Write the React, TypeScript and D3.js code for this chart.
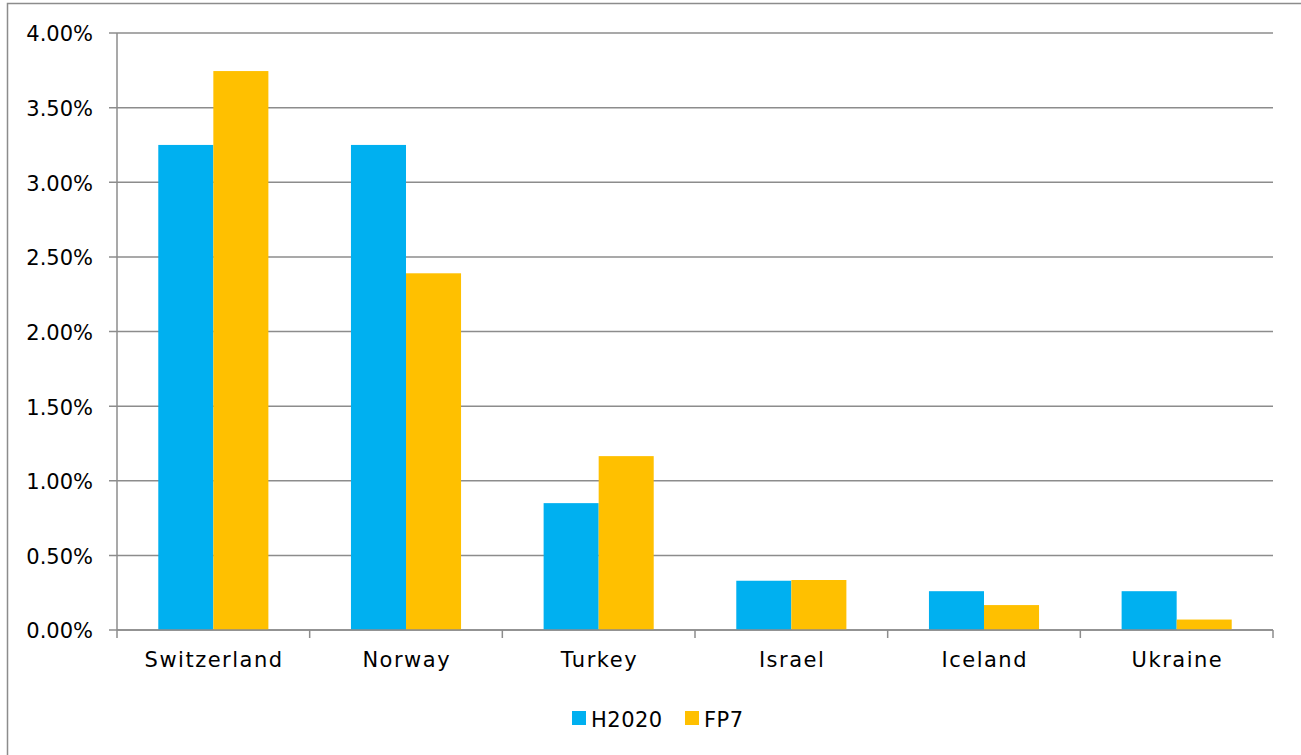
import React, { useEffect, useRef } from 'react';
import * as d3 from 'd3';

const countries = ['Switzerland', 'Norway', 'Turkey', 'Israel', 'Iceland', 'Ukraine'];
const h2020 = [0.0325, 0.0325, 0.0085, 0.0033, 0.0026, 0.0026];
const fp7 = [0.03745, 0.0239, 0.01165, 0.00335, 0.00167, 0.0007];
const yTicks = [0, 0.005, 0.01, 0.015, 0.02, 0.025, 0.03, 0.035, 0.04];
const seriesNames = ['H2020', 'FP7'];
const colors = ['#00B0F0', '#FFC000'];

const FONT = 'DejaVu Sans';

const App: React.FC = () => {
    const ref = useRef<SVGSVGElement>(null);
    const width = 1301;
    const height = 755;
    const margin = { top: 33, right: 28, bottom: 125, left: 117 };

    useEffect(() => {
        drawChart();
        //eslint-disable-next-line
    }, []);

    const drawChart = () => {
        const svg = d3.select(ref.current);
        svg.selectAll('*').remove();

        const plotW = width - margin.left - margin.right;
        const plotH = height - margin.top - margin.bottom;

        // outer frame of the chart
        svg.append('rect')
            .attr('x', 7.5).attr('y', 3.5)
            .attr('width', width + 20).attr('height', height + 20)
            .attr('fill', 'white')
            .attr('stroke', '#8c8c8c')
            .attr('stroke-width', 1.5);

        const g = svg.append('g').attr('transform', `translate(${margin.left},${margin.top})`);

        const x = d3.scaleBand<string>().domain(countries).range([0, plotW]);
        const y = d3.scaleLinear().domain([0, 0.04]).range([plotH, 0]);

        // gridlines
        g.selectAll('.grid')
            .data(yTicks)
            .enter().append('line')
            .attr('x1', -8).attr('x2', plotW)
            .attr('y1', d => y(d)).attr('y2', d => y(d))
            .attr('stroke', '#8c8c8c')
            .attr('stroke-width', 1.5);

        // y labels
        g.selectAll('.ylab')
            .data(yTicks)
            .enter().append('text')
            .attr('x', -24)
            .attr('y', d => y(d))
            .attr('dy', '0.4em')
            .attr('text-anchor', 'end')
            .attr('font-family', FONT)
            .attr('font-size', 21)
            .attr('fill', '#000')
            .text(d => d3.format('.2%')(d));

        // bars
        const bw = x.bandwidth() / 3.5;
        const series = [h2020, fp7];
        series.forEach((vals, si) => {
            g.selectAll(`.bar${si}`)
                .data(countries)
                .enter().append('rect')
                .attr('x', d => (x(d) as number) + x.bandwidth() / 2 - bw + si * bw)
                .attr('y', (_, i) => y(vals[i]))
                .attr('width', bw)
                .attr('height', (_, i) => plotH - y(vals[i]))
                .attr('fill', colors[si]);
        });

        // axes lines
        g.append('line')
            .attr('x1', 0).attr('x2', 0).attr('y1', 0).attr('y2', plotH)
            .attr('stroke', '#8c8c8c').attr('stroke-width', 1.5);
        g.append('line')
            .attr('x1', 0).attr('x2', plotW).attr('y1', plotH).attr('y2', plotH)
            .attr('stroke', '#8c8c8c').attr('stroke-width', 1.5);

        // category ticks
        const edges = countries.map(c => x(c) as number).concat([plotW]);
        g.selectAll('.xtick')
            .data(edges)
            .enter().append('line')
            .attr('x1', d => d).attr('x2', d => d)
            .attr('y1', plotH).attr('y2', plotH + 8)
            .attr('stroke', '#8c8c8c').attr('stroke-width', 1.5);

        // category labels
        g.selectAll('.xlab')
            .data(countries)
            .enter().append('text')
            .attr('x', d => (x(d) as number) + x.bandwidth() / 2 + 0.75)
            .attr('y', plotH + 37)
            .attr('text-anchor', 'middle')
            .attr('font-family', FONT)
            .attr('font-size', 21)
            .attr('letter-spacing', 1.5)
            .attr('fill', '#000')
            .text(d => d);

        // legend
        const legend = svg.append('g').attr('transform', 'translate(572,711)');
        const offsets = [0, 113];
        seriesNames.forEach((name, i) => {
            legend.append('rect')
                .attr('x', offsets[i]).attr('y', 0)
                .attr('width', 14).attr('height', 14)
                .attr('fill', colors[i]);
            legend.append('text')
                .attr('x', offsets[i] + 19).attr('y', 16)
                .attr('font-family', FONT)
                .attr('font-size', 21)
                .attr('letter-spacing', 0.5)
                .attr('fill', '#000')
                .text(name);
        });
    };

    return (
        <svg
            ref={ref}
            width={width}
            height={height}
            style={{ position: 'absolute', left: 0, top: 0 }}
        ></svg>
    );
};

export default App;
